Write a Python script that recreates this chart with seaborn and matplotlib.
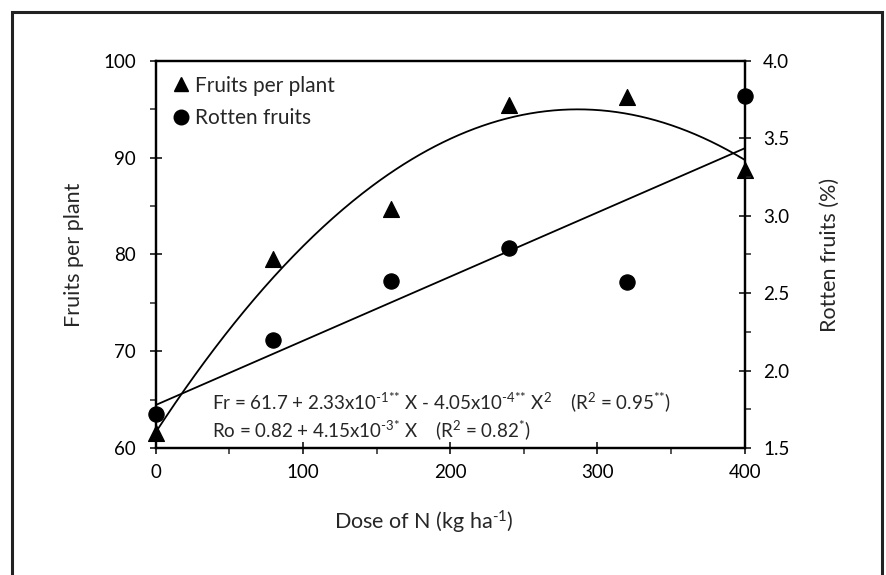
import numpy as np
import pandas as pd
import seaborn as sns
import matplotlib.pyplot as plt
from matplotlib.lines import Line2D
from matplotlib.patches import Rectangle
from matplotlib.ticker import MultipleLocator, FormatStrFormatter

# valores
dose = [0, 80, 160, 240, 320, 400]
fruits = [61.5, 79.5, 84.7, 95.5, 96.3, 88.7]
rotten = [1.72, 2.20, 2.58, 2.79, 2.575, 3.775]
labels = ['Fruits per plant', 'Rotten fruits']

sns.set_style('ticks')
plt.rcParams['font.family'] = ['Lato', 'DejaVu Sans']
plt.rcParams['mathtext.fontset'] = 'custom'
plt.rcParams['mathtext.rm'] = 'Lato'
plt.rcParams['mathtext.it'] = 'Lato'
plt.rcParams['mathtext.default'] = 'regular'

df = pd.DataFrame({'dose': dose, 'fruits': fruits, 'rotten': rotten})

fig = plt.figure(figsize=(8.87, 5.75), dpi=100)
ax = fig.add_axes([0.1755, 0.2209, 0.6640, 0.6730])
ax2 = ax.twinx()

# curvas ajustadas
xs = np.linspace(0, 400, 300)
fr_fit = np.polyval(np.polyfit(dose, fruits, 2), xs)
ro_fit = np.polyval(np.polyfit(dose, rotten, 1), xs)
sns.lineplot(x=xs, y=fr_fit, ax=ax, color='black', lw=1.3)
sns.lineplot(x=xs, y=ro_fit, ax=ax2, color='black', lw=1.3)

sns.scatterplot(data=df, x='dose', y='fruits', marker='^', s=130, color='black',
                edgecolor='black', ax=ax, zorder=4, clip_on=False)
sns.scatterplot(data=df, x='dose', y='rotten', marker='o', s=120, color='black',
                edgecolor='black', ax=ax2, zorder=4, clip_on=False)

ax.set_xlim(0, 400)
ax.set_ylim(60, 100)
ax2.set_ylim(1.5, 4.0)

ax.xaxis.set_major_locator(MultipleLocator(100))
ax.xaxis.set_minor_locator(MultipleLocator(50))
ax.yaxis.set_major_locator(MultipleLocator(10))
ax.yaxis.set_minor_locator(MultipleLocator(5))
ax2.yaxis.set_major_locator(MultipleLocator(0.5))
ax2.yaxis.set_minor_locator(MultipleLocator(0.25))
ax2.yaxis.set_major_formatter(FormatStrFormatter('%.1f'))

for a in (ax, ax2):
    for sp in a.spines.values():
        sp.set_linewidth(1.6)
        sp.set_color('black')
    a.tick_params(which='major', direction='inout', length=8.5, width=1.1,
                  labelsize=13.5, colors='black')
    a.tick_params(which='minor', direction='out', length=4.5, width=1.1)
ax.tick_params(axis='x', pad=7)
ax.tick_params(axis='y', pad=10)
ax2.tick_params(axis='y', pad=9)

ax.set_xlabel('Dose of N (kg ha$^{\\text{-1}}$)', fontsize=15.5)
ax.set_ylabel('Fruits per plant', fontsize=15.5)
ax2.set_ylabel('Rotten fruits (%)', fontsize=15.5)
ax.xaxis.set_label_coords(0.455, -0.158)
ax.yaxis.set_label_coords(-0.122, 0.5)
ax2.yaxis.set_label_coords(1.128, 0.5)

handles = [Line2D([], [], marker='^', ls='', color='black', ms=10.5),
           Line2D([], [], marker='o', ls='', color='black', ms=10.5)]
ax2.legend(handles, labels, loc='upper left', bbox_to_anchor=(0.0, 1.0),
           frameon=False, fontsize=15, handlelength=1.0, handletextpad=0.2,
           labelspacing=0.6, borderaxespad=0.3)

ax.text(0.095, 0.119,
        'Fr = 61.7 + 2.33x10$^{\\text{-1**}}$ X - 4.05x10$^{\\text{-4**}}$ X$^{2}$    '
        '(R$^{2}$ = 0.95$^{\\text{**}}$)',
        transform=ax.transAxes, va='center', ha='left', fontsize=13.5)
ax.text(0.095, 0.0465,
        'Ro = 0.82 + 4.15x10$^{\\text{-3*}}$ X    (R$^{2}$ = 0.82$^{\\text{*}}$)',
        transform=ax.transAxes, va='center', ha='left', fontsize=13.5)

# moldura externa
fig.add_artist(Rectangle((12 / 887, -0.05), 870 / 887, 1.05 - 12 / 575,
                         transform=fig.transFigure, fill=False,
                         lw=2.2, edgecolor='#222222'))

fig.savefig('out.png', dpi=100)
